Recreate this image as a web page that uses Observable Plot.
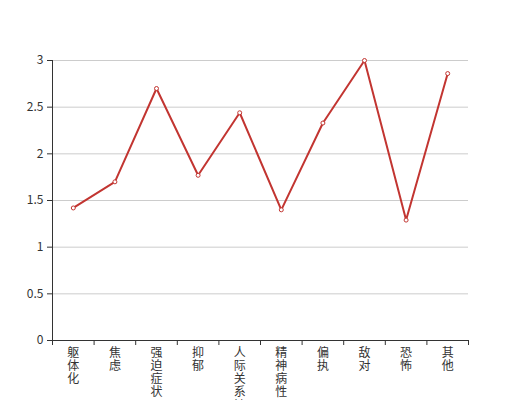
<!DOCTYPE html>
<html>
<head>
<meta charset="utf-8">
<script src="https://cdn.jsdelivr.net/npm/d3@7"></script>
<script src="https://cdn.jsdelivr.net/npm/@observablehq/plot@0.6"></script>
<style>
  html, body { margin: 0; padding: 0; background: #fff; }
</style>
</head>
<body>
<div id="chart"></div>
<script>
const categories = ["躯体化", "焦虑", "强迫症状", "抑郁", "人际关系敏感", "精神病性", "偏执", "敌对", "恐怖", "其他"];
const values = [1.42, 1.70, 2.70, 1.77, 2.44, 1.40, 2.33, 3.00, 1.29, 2.86];
const yTicks = [0, 0.5, 1, 1.5, 2, 2.5, 3];

const data = categories.map((c, i) => ({ name: c, idx: i + 0.5, value: values[i] }));
const font = "'Noto Sans CJK SC', 'Noto Sans', sans-serif";

const chart = Plot.plot({
  width: 520,
  height: 400,
  marginLeft: 52,
  marginRight: 52,
  marginTop: 60,
  marginBottom: 60,
  style: { fontFamily: font, fontSize: "12px", color: "#333", background: "#fff" },
  x: { type: "linear", domain: [0, categories.length], axis: null, label: null },
  y: { domain: [0, 3], axis: null, label: null },
  marks: [
    Plot.gridY(yTicks, { stroke: "#ccc", strokeOpacity: 1 }),
    Plot.axisY(yTicks, { tickSize: 5, tickPadding: 4, tickFormat: d => String(d), stroke: "#333", fill: "#333", fontSize: 12, label: null }),
    Plot.axisX(d3.range(categories.length + 1), { tickSize: 5, tickFormat: () => "", stroke: "#333", anchor: "bottom", label: null }),
    Plot.ruleX([0], { stroke: "#333" }),
    Plot.ruleY([0], { stroke: "#333" }),
    Plot.text(data, {
      x: "idx",
      y: () => 0,
      text: d => Array.from(d.name).join("\n"),
      lineAnchor: "top",
      lineHeight: 1.1,
      dy: 7,
      fill: "#333",
      fontSize: 12
    }),
    Plot.line(data, { x: "idx", y: "value", stroke: "#c23531", strokeWidth: 2 }),
    Plot.dot(data, { x: "idx", y: "value", r: 2, fill: "#fff", stroke: "#c23531", strokeWidth: 1 })
  ]
});
document.getElementById("chart").appendChild(chart);
</script>
</body>
</html>
